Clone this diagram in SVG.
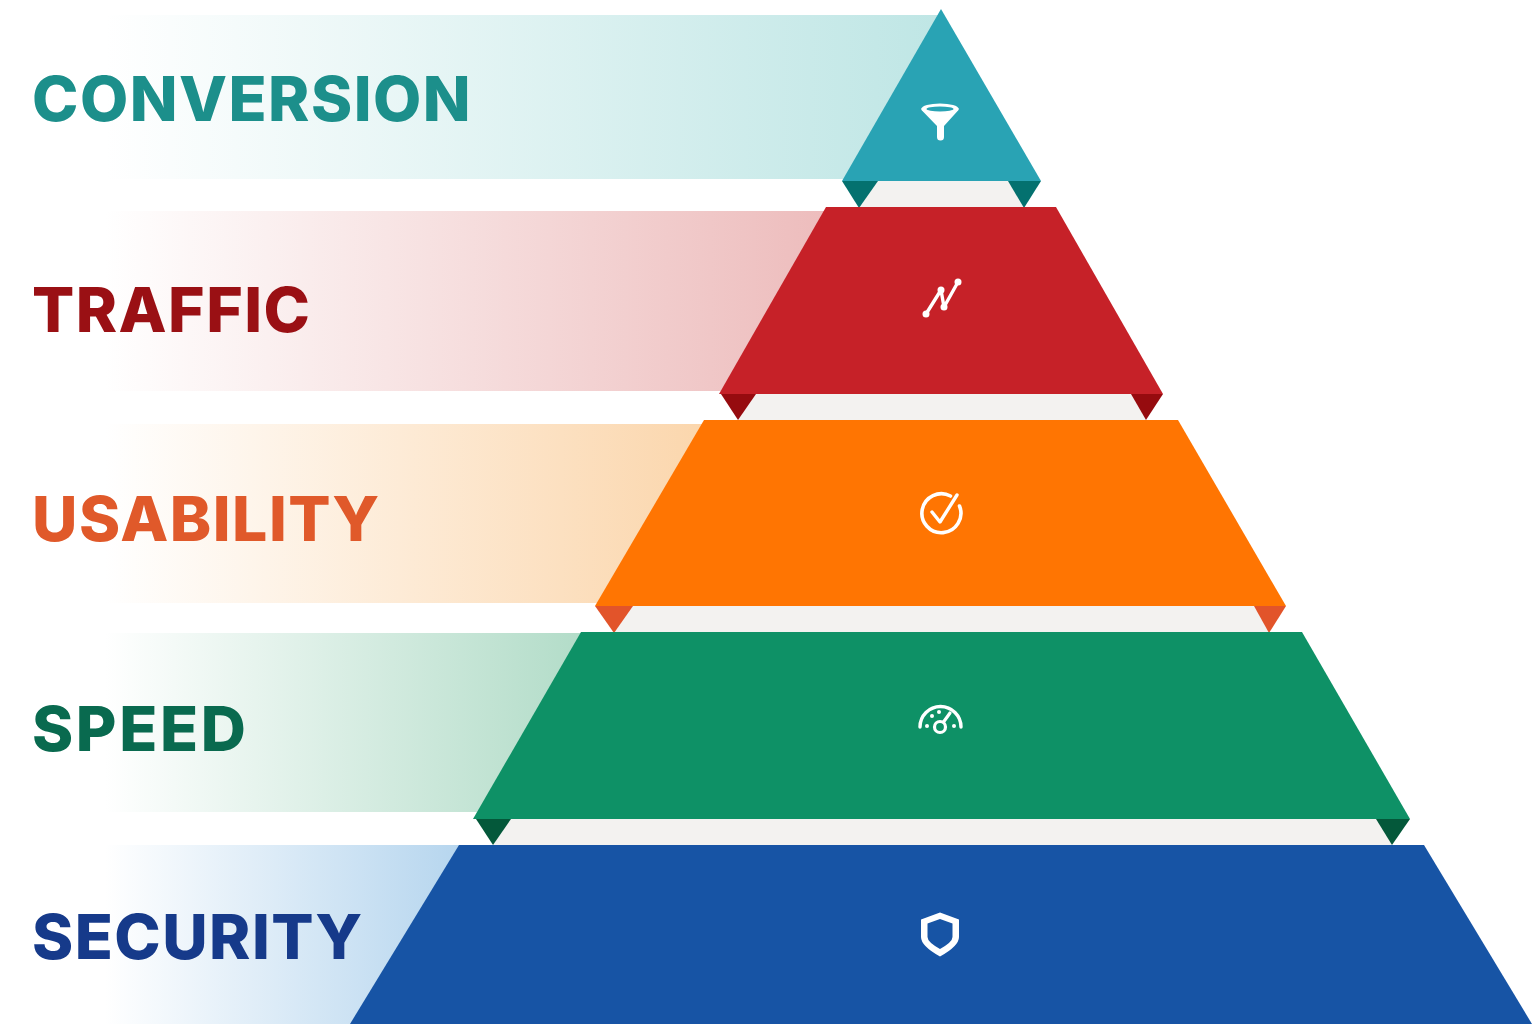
<svg xmlns="http://www.w3.org/2000/svg" width="1536" height="1033" viewBox="0 0 1536 1033">
<style>
.label{font-family:Inter,"Liberation Sans",sans-serif;font-weight:800;font-size:62.5px;letter-spacing:1.45px}
.ic{fill:none;stroke:#fff;stroke-linecap:round;stroke-linejoin:round}
.dot{fill:#fff}
.gap{fill:#f3f2f0}
</style>
<defs>
<linearGradient id="gTeal" x1="0" x2="1" y1="0" y2="0"><stop offset="0" stop-color="#bfe6e5" stop-opacity="0"/><stop offset="1" stop-color="#bfe6e5"/></linearGradient>
<linearGradient id="gRed" x1="0" x2="1" y1="0" y2="0"><stop offset="0" stop-color="#edbcbc" stop-opacity="0"/><stop offset="1" stop-color="#edbcbc"/></linearGradient>
<linearGradient id="gOrange" x1="0" x2="1" y1="0" y2="0"><stop offset="0" stop-color="#fbd6ac" stop-opacity="0"/><stop offset="1" stop-color="#fbd6ac"/></linearGradient>
<linearGradient id="gGreen" x1="0" x2="1" y1="0" y2="0"><stop offset="0" stop-color="#b2dcc8" stop-opacity="0"/><stop offset="1" stop-color="#b2dcc8"/></linearGradient>
<linearGradient id="gBlue" x1="0" x2="1" y1="0" y2="0"><stop offset="0" stop-color="#b5d5ee" stop-opacity="0"/><stop offset="1" stop-color="#b5d5ee"/></linearGradient>
</defs>
<rect width="1536" height="1033" fill="#fff"/>
<g id="connectors">
<rect class="gap" x="860" y="181" width="164" height="27"/>
<rect class="gap" x="738" y="394" width="408" height="26"/>
<rect class="gap" x="614" y="606" width="655" height="27"/>
<rect class="gap" x="493" y="819" width="899" height="26"/>
<polygon points="842,181 878,181 859,208" fill="#04716f"/>
<polygon points="1008,181 1041,181 1024,208" fill="#04716f"/>
<polygon points="721,394 756,394 738,420" fill="#960b0f"/>
<polygon points="1131,394 1163,394 1146,420" fill="#960b0f"/>
<polygon points="595,606 633,606 614,633" fill="#e2542a"/>
<polygon points="1254,606 1286,606 1269,633" fill="#e2542a"/>
<polygon points="476,819 511,819 493,845" fill="#04583a"/>
<polygon points="1376,819 1410,819 1392,845" fill="#04583a"/>
</g>
<g id="node-conversion">
<polygon points="105,15 941,15 941,179 105,179" fill="url(#gTeal)"/>
<polygon points="941,9 1041,181 842,181" fill="#29a3b4"/>
<text class="label" x="32" y="121" fill="#1c8f8b">CONVERSION</text>
<path class="dot" d="M921.500,108 H958.500 V110 L944,126 V137 a3.500,3.500 0 0 1 -7,0 V126 L921.500,110 Z"/>
<ellipse class="dot" cx="940" cy="109" rx="18.500" ry="5.500"/>
<ellipse cx="940" cy="109" rx="13.500" ry="2.400" fill="#29a3b4"/>
</g>
<g id="node-traffic">
<polygon points="105,211 830,211 830,391 105,391" fill="url(#gRed)"/>
<polygon points="826,207 1056,207 1163,394 719,394" fill="#c62128"/>
<text class="label" x="32" y="332" fill="#9a1014">TRAFFIC</text>
<path class="ic" d="M926,314 L941,290 L944,307 L958,282" stroke-width="3.400"/>
<circle class="dot" cx="926" cy="314" r="3.500"/><circle class="dot" cx="941" cy="290" r="3.500"/><circle class="dot" cx="944" cy="307" r="3.500"/><circle class="dot" cx="958" cy="282" r="3.500"/>
</g>
<g id="node-usability">
<polygon points="105,424 708,424 708,603 105,603" fill="url(#gOrange)"/>
<polygon points="704,420 1178,420 1286,606 595,606" fill="#ff7502"/>
<text class="label" x="32" y="541" fill="#e0592a">USABILITY</text>
<path class="ic" d="M950.500,496 A19.500,19.500 0 1 0 959.500,506" stroke-width="3.600"/>
<path class="ic" d="M932,512 L940,522 L957,495" stroke-width="3.400"/>
</g>
<g id="node-speed">
<polygon points="105,633 585,633 585,812 105,812" fill="url(#gGreen)"/>
<polygon points="581,632 1302,632 1410,819 473,819" fill="#0e9166"/>
<text class="label" x="32" y="751" fill="#096a4f" style="letter-spacing:2.6px">SPEED</text>
<path class="ic" d="M920,727 A20.500,20.500 0 0 1 961,727" stroke-width="3.400"/>
<circle class="ic" cx="940" cy="727" r="5.500" stroke-width="3.200"/>
<path class="ic" d="M943.500,722 L950,713" stroke-width="3.200"/>
<circle class="dot" cx="932" cy="716" r="2"/><circle class="dot" cx="939" cy="712" r="2"/><circle class="dot" cx="927" cy="726" r="2"/><circle class="dot" cx="954" cy="726" r="2"/>
</g>
<g id="node-security">
<polygon points="105,845 465,845 465,1024 105,1024" fill="url(#gBlue)"/>
<polygon points="459,845 1424,845 1532,1024 350,1024" fill="#1754a5"/>
<text class="label" x="32" y="959" fill="#163a8a">SECURITY</text>
<path class="dot" fill-rule="evenodd" d="M940,912.500 L959,919.500 V937 Q959,946 940,956.500 Q921,946 921,937 V919.500 Z M940,919 L927.500,923.500 V937 Q927.500,942 940,949 Q952.500,942 952.500,937 V923.500 Z"/>
</g>
</svg>
